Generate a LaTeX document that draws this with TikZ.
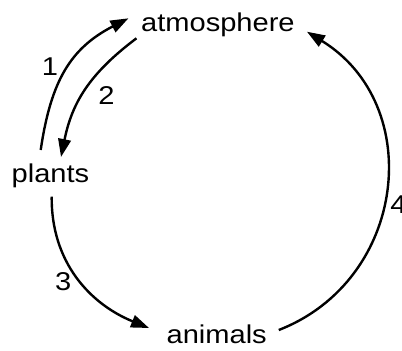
\documentclass[tikz,border=0pt]{standalone}
\usepackage{fontspec}
\setmainfont{Liberation Sans}
\usepackage{graphicx}
\usetikzlibrary{arrows.meta,calc}
\newcommand{\wtext}[1]{\scalebox{1.13}[1]{#1}}

\begin{document}
\begin{tikzpicture}[x=0.75pt,y=0.75pt,yscale=-1,xscale=1,
  lbl/.style={font=\fontsize{19.3}{23}\selectfont, inner sep=0pt, anchor=base},
  flow/.style={line width=1.8pt, -{Triangle[length=13.5pt,width=9.5pt]}}]
\useasboundingbox (0,0) rectangle (402,350);

% Text Node
\node[lbl] (atm) at (217.9,31.7) {\wtext{atmosphere}};
% Text Node
\node[lbl] (plants) at (50.5,182.7) {\wtext{plants}};
% Text Node
\node[lbl] (animals) at (216.7,343.3) {\wtext{animals}};

%Curve Lines
\draw[flow] ($(plants.base)+(-9.8,-32.7)$) .. controls (51,80) and (71,48) .. ($(atm.base west)+(-12.4,-13.4)$);
%Curve Lines
\draw[flow] ($(atm.base west)+(-4.4,6.6)$) .. controls (89,74) and (72,103) .. ($(plants.base)+(10.5,-25.7)$);
%Curve Lines
\draw[flow] ($(plants.base)+(1.2,14)$) .. controls (51,262) and (90,304) .. ($(animals.base west)+(-17.3,-15.3)$);
%Curve Lines
\draw[flow] ($(animals.base east)+(11.7,-13.3)$) .. controls (407,280) and (426,105) .. ($(atm.base east)+(12,0)$);

% Text Node
\node[lbl] (n1) at (50,75) {\wtext{1}};
% Text Node
\node[lbl] (n2) at (106.5,104) {\wtext{2}};
% Text Node
\node[lbl] (n3) at (63.3,290) {\wtext{3}};
% Text Node
\node[lbl] (n4) at (398.5,213.3) {\wtext{4}};

\end{tikzpicture}
\end{document}
